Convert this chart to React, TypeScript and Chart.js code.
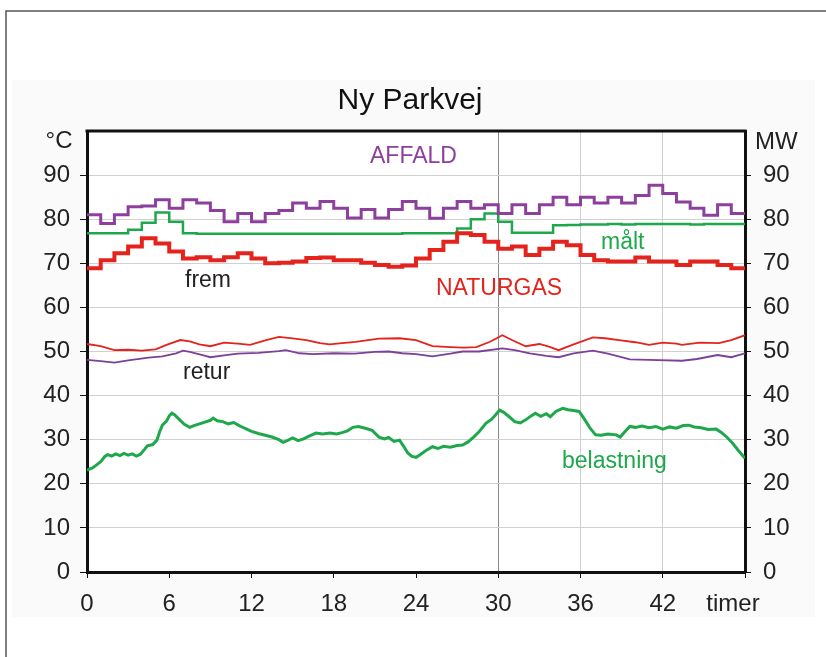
import React, { useEffect, useRef } from "react";
import { Chart, registerables } from "chart.js";

Chart.register(...registerables);

// X tick labels (hours); 48 is shown as "timer"
const xTicks = [0, 6, 12, 18, 24, 30, 36, 42, 48];
const yTicks = [0, 10, 20, 30, 40, 50, 60, 70, 80, 90];

// Hourly step values, hour 0..47
const affaldFrem = [
  81, 79, 81, 82.8, 83, 84.4, 82.5, 84.4, 83.7, 82, 79.4, 81.3, 79.4, 81.3, 82, 83.7,
  82.5, 84, 82.5, 80.3, 82.2, 80.3, 82.2, 84, 82.5, 80.2, 82.5, 84, 82.5, 83.3, 81.3, 83.3,
  81.3, 83.3, 85, 83.3, 85, 83.7, 85, 83.7, 85.4, 87.7, 85.8, 83.9, 82.5, 80.9, 83.3, 81.3,
];
const maaltFrem = [
  76.8, 76.8, 76.8, 77.6, 79.2, 81.5, 79.4, 76.8, 76.7, 76.7, 76.7, 76.7, 76.7, 76.7, 76.7, 76.7,
  76.7, 76.7, 76.7, 76.7, 76.7, 76.7, 76.7, 76.8, 76.8, 76.8, 76.8, 77.9, 80, 81.3, 79.4, 76.9,
  76.9, 76.9, 78.6, 78.7, 78.8, 78.8, 78.9, 78.8, 78.9, 78.9, 78.9, 78.9, 78.8, 78.9, 78.9, 78.9,
];
const naturgasFrem = [
  68.9, 70.7, 72.3, 73.8, 75.7, 74.5, 72.7, 71.1, 71.4, 70.7, 71.4, 72.3, 71.1, 70, 70.1, 70.4,
  71.2, 71.3, 70.7, 70.7, 70.1, 69.6, 69.2, 69.5, 71.1, 73, 74.9, 76.8, 76.4, 74.9, 73.3, 73.8,
  71.9, 73.3, 74.9, 74.1, 71.9, 70.7, 70.4, 70.4, 71.3, 70.4, 70.4, 69.6, 70.4, 70.4, 69.6, 68.9,
];

// Return temperatures
const naturgasReturT = [
  0, 1, 2, 3, 4, 5, 5.8, 6.8, 7.5, 8.2, 9, 10, 11, 11.9, 13, 14, 15, 16, 17, 17.7, 18.6, 19.6,
  20.5, 21.3, 22.8, 24, 25.2, 26.5, 27.5, 28.4, 29.4, 30.3, 31, 32, 33, 33.7, 34.4, 35.5, 36.9,
  37.8, 38.8, 40, 41, 42, 43, 43.4, 44.7, 46.1, 47, 48,
];
const naturgasRetur = [
  51.7, 51.2, 50.3, 50.4, 50.2, 50.5, 51.5, 52.6, 52.3, 51.6, 51.2, 52, 51.8, 51.5, 52.5, 53.3,
  53, 52.6, 51.9, 51.6, 51.9, 52.2, 52.6, 52.9, 53, 52.6, 51.2, 51, 50.9, 51, 52.2, 53.7, 52.6,
  51.2, 51.7, 51.1, 50.3, 51.6, 53.2, 53, 52.6, 52.1, 51.5, 52, 51.8, 51.5, 52, 51.9, 52.6, 53.7,
];
const affaldReturT = [
  0, 1, 2, 3, 4.5, 5.5, 6.5, 7, 7.5, 8.5, 9, 10, 11, 12.5, 14, 14.5, 15.5, 16.5, 18, 19.5, 21,
  22, 23, 24, 25.2, 26.5, 27.4, 28.6, 30.3, 31.2, 32.3, 33.5, 34.4, 35.5, 36.9, 38, 39.6, 41,
  43.4, 44.5, 46, 47, 48,
];
const affaldRetur = [
  48.1, 47.8, 47.5, 48, 48.6, 48.9, 49.6, 50.2, 49.9, 49.1, 48.7, 49.1, 49.5, 49.7, 50.1, 50.3,
  49.6, 49.4, 49.6, 49.5, 49.9, 50, 49.6, 49.4, 48.9, 49.5, 50, 50, 50.7, 50.3, 49.6, 49, 48.7,
  49.6, 50.2, 49.5, 48.2, 48.1, 47.9, 48.3, 49.2, 48.7, 49.6,
];

// Load (MW)
const belastningT = [
  0, 0.4, 0.7, 1.0, 1.3, 1.5, 1.8, 2.1, 2.4, 2.7, 3.0, 3.3, 3.6, 3.9, 4.2, 4.4, 4.8, 5.1, 5.3,
  5.5, 5.8, 6.0, 6.2, 6.4, 6.6, 6.8, 7.1, 7.5, 7.8, 8.2, 8.6, 9.0, 9.2, 9.5, 9.9, 10.3, 10.7,
  11.1, 11.5, 12.0, 12.5, 13.0, 13.5, 14.0, 14.3, 14.6, 15.0, 15.4, 15.8, 16.2, 16.7, 17.2,
  17.7, 18.2, 18.6, 19.0, 19.4, 19.8, 20.3, 20.8, 21.3, 21.7, 22.0, 22.4, 22.8, 23.1, 23.4,
  23.7, 24.0, 24.3, 24.7, 25.2, 25.6, 26.0, 26.5, 27.0, 27.4, 27.8, 28.2, 28.6, 29.1, 29.5,
  29.8, 30.1, 30.4, 30.8, 31.2, 31.6, 32.0, 32.4, 32.7, 33.1, 33.5, 33.8, 34.2, 34.7, 35.1,
  35.5, 35.9, 36.3, 36.7, 37.1, 37.5, 38.0, 38.6, 38.9, 39.2, 39.6, 40.0, 40.5, 41.0, 41.5,
  42.0, 42.5, 43.0, 43.5, 43.9, 44.3, 44.8, 45.3, 45.9, 46.3, 46.7, 47.1, 47.5, 48,
];
const belastning = [
  23.1, 23.6, 24.3, 25.0, 26.2, 26.6, 26.3, 26.8, 26.4, 26.9, 26.5, 26.8, 26.3, 26.7, 27.8,
  28.6, 28.9, 29.9, 31.8, 33.3, 34.2, 35.4, 36.0, 35.6, 35.0, 34.4, 33.5, 32.8, 33.2, 33.6,
  34.0, 34.4, 34.9, 34.3, 34.1, 33.6, 33.9, 33.2, 32.6, 31.9, 31.4, 31.0, 30.6, 30.0, 29.4,
  29.8, 30.4, 29.8, 30.2, 30.8, 31.5, 31.3, 31.5, 31.3, 31.6, 32.0, 32.8, 33.0, 32.6, 32.1,
  30.6, 30.2, 30.5, 29.6, 29.9, 28.5, 27.0, 26.2, 26.0, 26.6, 27.5, 28.4, 28.0, 28.5, 28.3,
  28.7, 28.8, 29.5, 30.6, 31.8, 33.7, 34.6, 35.6, 36.7, 36.2, 35.2, 34.1, 33.8, 34.5, 35.4,
  36.0, 35.3, 35.9, 35.2, 36.4, 37.1, 36.8, 36.6, 36.4, 34.6, 32.6, 31.1, 31.0, 31.3, 31.1,
  30.6, 31.7, 33.0, 32.8, 33.1, 32.7, 33.0, 32.4, 32.9, 32.6, 33.2, 33.3, 32.9, 32.7, 32.3,
  32.4, 31.6, 30.5, 29.2, 27.6, 25.8,
];

const FONT = '"Liberation Sans", Arial, Helvetica, sans-serif';
const PURPLE = "#8d3f9e";
const GREEN = "#1ea84b";
const RED = "#e4231d";

const stepPts = (arr: number[]) =>
  arr.map((v, i) => ({ x: i, y: v })).concat([{ x: 48, y: arr[arr.length - 1] }]);
const pairPts = (t: number[], v: number[]) => t.map((x, i) => ({ x, y: v[i] }));

const decorPlugin = {
  id: "decor",
  beforeDraw(chart: any) {
    const { ctx, chartArea } = chart;
    ctx.save();
    ctx.fillStyle = "#ffffff";
    ctx.fillRect(0, 0, chart.width, chart.height);
    ctx.fillStyle = "#fafafa";
    ctx.fillRect(12, 80, 803, 537);
    ctx.fillStyle = "#ffffff";
    ctx.fillRect(chartArea.left, chartArea.top, chartArea.right - chartArea.left, chartArea.bottom - chartArea.top);
    ctx.strokeStyle = "#555555";
    ctx.lineWidth = 1.5;
    ctx.beginPath();
    ctx.moveTo(6, 657);
    ctx.lineTo(6, 11);
    ctx.lineTo(826, 11);
    ctx.stroke();
    ctx.restore();
  },
  afterDraw(chart: any) {
    const { ctx, chartArea } = chart;
    ctx.save();
    // top frame line
    ctx.strokeStyle = "#111";
    ctx.lineWidth = 3;
    ctx.beginPath();
    ctx.moveTo(chartArea.left - 1.5, chartArea.top);
    ctx.lineTo(chartArea.right + 1.5, chartArea.top);
    ctx.stroke();

    ctx.textBaseline = "middle";
    // title
    ctx.fillStyle = "#111";
    ctx.textAlign = "center";
    ctx.font = `30px ${FONT}`;
    ctx.fillText("Ny Parkvej", 410, 101);
    // unit labels
    ctx.font = `24px ${FONT}`;
    ctx.fillStyle = "#222";
    ctx.fillText("°C", 59, 141);
    ctx.textAlign = "left";
    ctx.fillText("MW", 755, 142);
    ctx.textAlign = "center";
    ctx.fillText("timer", 733, 604);

    // annotations
    ctx.textAlign = "left";
    ctx.font = `23px ${FONT}`;
    ctx.fillStyle = PURPLE;
    ctx.fillText("AFFALD", 370, 157);
    ctx.fillStyle = "#222";
    ctx.fillText("frem", 185, 281);
    ctx.fillText("retur", 183, 373);
    ctx.fillStyle = RED;
    ctx.fillText("NATURGAS", 436, 289);
    ctx.fillStyle = GREEN;
    ctx.fillText("målt", 601, 243);
    ctx.fillText("belastning", 562, 462);
    ctx.restore();
  },
};

export default function App() {
  const ref = useRef<HTMLCanvasElement | null>(null);

  useEffect(() => {
    if (!ref.current) return;
    const chart = new Chart(ref.current, {
      type: "line",
      data: {
        datasets: [
          { label: "NATURGAS frem", data: stepPts(naturgasFrem), stepped: "before", borderColor: RED, borderWidth: 4 },
          { label: "AFFALD frem", data: stepPts(affaldFrem), stepped: "before", borderColor: PURPLE, borderWidth: 3 },
          { label: "målt frem", data: stepPts(maaltFrem), stepped: "before", borderColor: GREEN, borderWidth: 2.5 },
          { label: "NATURGAS retur", data: pairPts(naturgasReturT, naturgasRetur), borderColor: RED, borderWidth: 1.8 },
          { label: "AFFALD retur", data: pairPts(affaldReturT, affaldRetur), borderColor: "#7d3f98", borderWidth: 1.8 },
          { label: "belastning", data: pairPts(belastningT, belastning), borderColor: GREEN, borderWidth: 3, yAxisID: "y1" },
        ] as any,
      },
      options: {
        responsive: false,
        animation: false,
        parsing: true,
        layout: { padding: { top: 131, left: 0, right: 0, bottom: 0 } },
        elements: { point: { radius: 0 }, line: { tension: 0, fill: false } },
        plugins: { legend: { display: false }, tooltip: { enabled: false }, title: { display: false } },
        scales: {
          x: {
            type: "linear",
            min: 0,
            max: 48,
            afterBuildTicks: (s: any) => {
              s.ticks = xTicks.map((v) => ({ value: v }));
            },
            afterFit: (s: any) => {
              s.height = 85;
            },
            ticks: {
              autoSkip: false,
              maxRotation: 0,
              padding: 12,
              color: "#222",
              font: { family: FONT, size: 24 },
              callback: (v: any) => (v === 48 ? "" : String(v)),
            },
            grid: {
              drawTicks: true,
              tickLength: 6,
              tickColor: "#111",
              lineWidth: 1,
              color: (c: any) => {
                const v = c.tick && c.tick.value;
                if (v === 30) return "#8a8a8a";
                if (v === 36 || v === 42) return "#cfcfcf";
                return "rgba(0,0,0,0)";
              },
            },
            border: { display: true, color: "#111", width: 3 },
          },
          y: {
            type: "linear",
            position: "left",
            min: 0,
            max: 100,
            afterBuildTicks: (s: any) => {
              s.ticks = yTicks.map((v) => ({ value: v })).concat([{ value: 100 }]);
            },
            afterFit: (s: any) => {
              s.width = 87;
            },
            ticks: {
              padding: 10,
              color: "#222",
              font: { family: FONT, size: 24 },
              callback: (v: any) => (v === 100 ? "" : String(v)),
            },
            grid: {
              color: "#d0d0d0",
              lineWidth: 1,
              tickLength: 7,
              tickColor: (c: any) => (c.tick && c.tick.value === 100 ? "rgba(0,0,0,0)" : "#111"),
            },
            border: { display: true, color: "#111", width: 3 },
          },
          y1: {
            type: "linear",
            position: "right",
            min: 0,
            max: 100,
            afterBuildTicks: (s: any) => {
              s.ticks = yTicks.map((v) => ({ value: v })).concat([{ value: 100 }]);
            },
            afterFit: (s: any) => {
              s.width = 81;
            },
            ticks: {
              padding: 12,
              color: "#222",
              font: { family: FONT, size: 24 },
              callback: (v: any) => (v === 100 ? "" : String(v)),
            },
            grid: {
              drawOnChartArea: false,
              tickLength: 6,
              tickColor: (c: any) => (c.tick && c.tick.value === 100 ? "rgba(0,0,0,0)" : "#111"),
            },
            border: { display: true, color: "#111", width: 3 },
          },
        },
      } as any,
      plugins: [decorPlugin],
    });
    return () => chart.destroy();
  }, []);

  return (
    <div style={{ position: "fixed", left: 0, top: 0, width: 826, height: 657, background: "#fff" }}>
      <canvas ref={ref} width={826} height={657} style={{ display: "block", width: 826, height: 657 }} />
    </div>
  );
}
